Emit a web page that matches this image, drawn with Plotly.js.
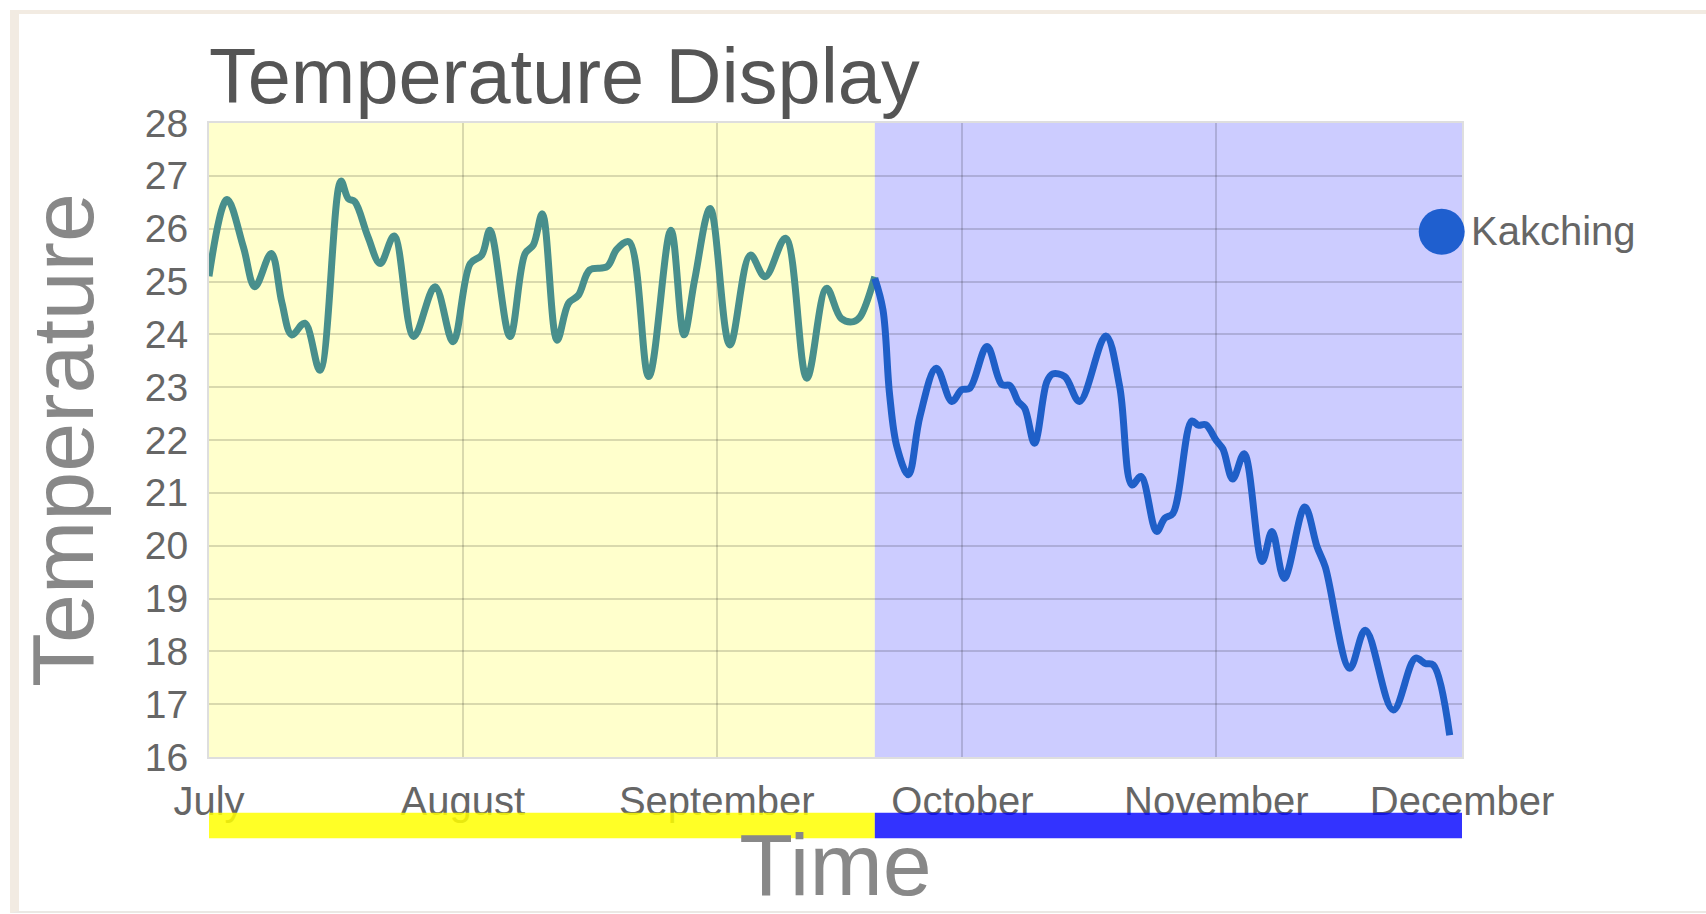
<!DOCTYPE html>
<html>
<head>
<meta charset="utf-8">
<script src="https://cdn.plot.ly/plotly-3.0.1.min.js"></script>
<style>
html,body{margin:0;padding:0;background:#ffffff;width:1706px;height:914px;overflow:hidden;}
#chart{position:absolute;left:0;top:0;width:1706px;height:914px;}
#frame{position:absolute;left:10px;top:10px;right:0;bottom:1px;border-top:4px solid #f2ebe2;border-left:9px solid #f2ebe2;border-bottom:2px solid #ebe8e4;pointer-events:none;}
</style>
</head>
<body>
<div id="chart"></div>
<div id="frame"></div>
<script>
// ---- data ----
const startDate = '2023-07-01';
const endDate = '2023-12-01';
const monthTicks = ['2023-07-01','2023-08-01','2023-09-01','2023-10-01','2023-11-01','2023-12-01'];
const monthLabels = ['July','August','September','October','November','December'];
const tempTicks = [16,17,18,19,20,21,22,23,24,25,26,27,28];
const seriesName = 'Kakching';

// summer stretch (days after 1 July, temperature)
const greenDays = [0,2.2,4.2,5.6,7.6,8.9,10.1,11.7,13.55,16.1,17.0,17.8,19.4,20.9,22.6,25.0,27.6,29.8,31.9,33.3,34.3,36.75,38.6,39.6,40.7,42.5,43.9,45.1,46.5,48.6,49.8,51.3,53.7,56.4,58.0,59.3,61.2,63.6,66.1,67.9,70.4,73.0,75.4,77.2,78.7,79.5,81.3];
const greenTemps = [25.1,26.55,25.65,24.9,25.53,24.6,23.99,24.21,23.32,26.9,26.57,26.51,25.85,25.34,25.86,23.96,24.9,23.86,25.34,25.5,25.97,23.96,25.53,25.69,26.28,23.89,24.59,24.74,25.22,25.28,25.61,25.75,23.2,25.97,23.99,25.03,26.38,23.8,25.5,25.09,25.82,23.17,24.87,24.3,24.24,24.33,25.09];

// autumn stretch
const blueDays = [81.3,82.3,83.1,84.0,85.4,86.8,88.8,90.7,91.9,92.9,95.0,96.8,97.8,98.8,99.6,100.8,102.3,103.0,104.5,106.3,109.5,111.2,112.7,113.8,115.7,116.7,117.7,120.0,120.8,121.7,123.0,123.8,125.0,126.4,128.6,129.8,131.3,133.8,135.3,136.3,139.3,141.2,144.6,147.3,148.5,149.5,151.5];
const blueTemps = [25.06,24.46,22.87,21.87,21.34,22.44,23.36,22.73,22.95,22.98,23.77,23.05,23.03,22.73,22.6,21.94,23.1,23.25,23.2,22.73,23.97,23.01,21.15,21.31,20.27,20.52,20.61,22.36,22.28,22.29,21.99,21.83,21.26,21.74,19.7,20.27,19.38,20.73,19.98,19.6,17.68,18.4,16.89,17.87,17.77,17.74,16.41];

// ---- helpers ----
const t0 = Date.UTC(2023, 6, 1);
function dayToDate(d) {
  const iso = new Date(t0 + d * 86400000).toISOString();
  return iso.slice(0, 10) + ' ' + iso.slice(11, 19);
}
const greenX = greenDays.map(dayToDate);
const blueX = blueDays.map(dayToDate);
const splitDate = greenX[greenX.length - 1];

const FONT = 'Liberation Sans, Arial, sans-serif';

const traces = [
  {
    x: greenX, y: greenTemps, type: 'scatter', mode: 'lines',
    line: {color: '#488f8c', width: 7, shape: 'spline'},
    showlegend: false, hoverinfo: 'x+y', name: seriesName
  },
  {
    x: blueX, y: blueTemps, type: 'scatter', mode: 'lines',
    line: {color: '#1f5fc8', width: 7, shape: 'spline'},
    showlegend: false, hoverinfo: 'x+y', name: seriesName
  }
];

const layout = {
  width: 1706, height: 914,
  paper_bgcolor: '#ffffff', plot_bgcolor: '#ffffff',
  margin: {l: 209, r: 244, t: 123, b: 157, pad: 0},
  font: {family: FONT, color: '#666666'},
  showlegend: false,
  title: {
    text: 'Temperature Display',
    font: {family: FONT, size: 77.5, color: '#555555'},
    xref: 'paper', x: 0, xanchor: 'left',
    yref: 'container', y: 1 - 103 / 914, yanchor: 'bottom',
    pad: {t: 0, b: 0, l: 0, r: 0}
  },
  xaxis: {
    type: 'date',
    range: [startDate, endDate],
    tickmode: 'array', tickvals: monthTicks, ticktext: monthLabels,
    ticks: 'outside', ticklen: 8, tickcolor: 'rgba(0,0,0,0)',
    tickfont: {family: FONT, size: 40, color: '#666666'},
    showgrid: true, gridcolor: 'rgba(0,0,0,0.15)', gridwidth: 2,
    showline: true, mirror: true, linecolor: 'rgba(0,0,0,0.13)', linewidth: 2,
    zeroline: false, automargin: false,
    title: {text: 'Time', font: {family: FONT, size: 88, color: '#888888'}, standoff: 26}
  },
  yaxis: {
    range: [16, 28],
    tickmode: 'array', tickvals: tempTicks,
    ticks: 'outside', ticklen: 11, tickcolor: 'rgba(0,0,0,0)',
    tickfont: {family: FONT, size: 39, color: '#666666'},
    showgrid: true, gridcolor: 'rgba(0,0,0,0.15)', gridwidth: 2,
    showline: true, mirror: true, linecolor: 'rgba(0,0,0,0.13)', linewidth: 2,
    zeroline: false, automargin: false,
    title: {text: 'Temperature', font: {family: FONT, size: 88, color: '#888888'}, standoff: 22}
  },
  shapes: [
    {type: 'rect', xref: 'x', yref: 'paper', x0: startDate, x1: splitDate, y0: 0, y1: 1,
     fillcolor: 'rgba(255,255,0,0.2)', line: {width: 0}, layer: 'below'},
    {type: 'rect', xref: 'x', yref: 'paper', x0: splitDate, x1: endDate, y0: 0, y1: 1,
     fillcolor: 'rgba(0,0,255,0.2)', line: {width: 0}, layer: 'below'},
    {type: 'rect', xref: 'x', yref: 'paper', x0: startDate, x1: splitDate, y0: -0.1282, y1: -0.0879,
     fillcolor: 'rgba(255,255,0,0.85)', line: {width: 0}, layer: 'above'},
    {type: 'rect', xref: 'x', yref: 'paper', x0: splitDate, x1: endDate, y0: -0.1282, y1: -0.0879,
     fillcolor: 'rgba(0,0,255,0.8)', line: {width: 0}, layer: 'above'},
    {type: 'circle', xref: 'paper', yref: 'paper', xsizemode: 'pixel', ysizemode: 'pixel',
     xanchor: 0.9838, yanchor: 0.8285, x0: -23, x1: 23, y0: -23, y1: 23,
     fillcolor: '#1f5fcf', line: {width: 0}, layer: 'above'}
  ],
  annotations: [
    {text: seriesName, xref: 'paper', yref: 'paper', x: 1.0055, y: 0.83,
     xanchor: 'left', yanchor: 'middle', showarrow: false,
     font: {family: FONT, size: 40, color: '#666666'}}
  ]
};

Plotly.newPlot('chart', traces, layout, {displayModeBar: false, staticPlot: true});
</script>
</body>
</html>
